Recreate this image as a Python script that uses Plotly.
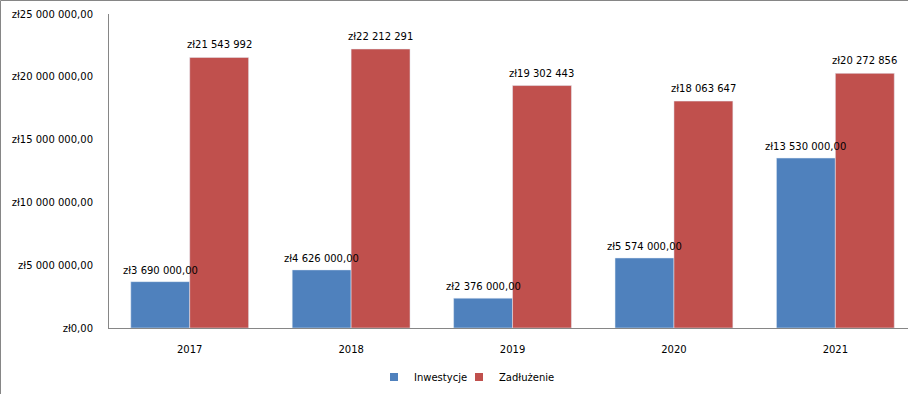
import plotly.graph_objects as go

years = ["2017", "2018", "2019", "2020", "2021"]
inwestycje = [3690000, 4626000, 2376000, 5574000, 13530000]
zadluzenie = [21543992, 22212291, 19302443, 18063647, 20272856]
inw_labels = ["zł3 690 000,00", "zł4 626 000,00", "zł2 376 000,00", "zł5 574 000,00", "zł13 530 000,00"]
zad_labels = ["zł21 543 992", "zł22 212 291", "zł19 302 443", "zł18 063 647", "zł20 272 856"]
tick_vals = [0, 5000000, 10000000, 15000000, 20000000, 25000000]
tick_text = ["zł0,00", "zł5 000 000,00", "zł10 000 000,00", "zł15 000 000,00", "zł20 000 000,00", "zł25 000 000,00"]

FONT = "DejaVu Sans"
FS = 10
W, H = 908, 394
L, R, T, B = 109, 0, 14, 66
pw = W - L - R
ph = H - T - B
BARGAP = 0.27
XRANGE = [-0.5, 4.45]
px_per_unit = pw / (XRANGE[1] - XRANGE[0])
half_bar_px = (1 - BARGAP) / 4 * px_per_unit

fig = go.Figure()
fig.add_trace(go.Bar(x=years, y=inwestycje, name="Inwestycje", marker_color="#4F81BD",
                     showlegend=False))
fig.add_trace(go.Bar(x=years, y=zadluzenie, name="Zadłużenie", marker_color="#C0504D",
                     showlegend=False))
# legend entries with small square keys
fig.add_trace(go.Scatter(x=[None], y=[None], mode="markers", name="Inwestycje",
                         marker=dict(symbol="square", size=8, color="#4F81BD")))
fig.add_trace(go.Scatter(x=[None], y=[None], mode="markers", name="Zadłużenie",
                         marker=dict(symbol="square", size=8, color="#C0504D")))
# spacer entry so the last legend label is not clipped
fig.add_trace(go.Scatter(x=[None], y=[None], mode="markers", name="\u00a0",
                         marker=dict(symbol="square", size=8, color="rgba(0,0,0,0)"),
                         hoverinfo="skip"))

annotations = []
for i, (v, t) in enumerate(zip(inwestycje, inw_labels)):
    annotations.append(dict(x=i, y=v, xref="x", yref="y", text=t, showarrow=False,
                            xshift=-half_bar_px, yshift=4, yanchor="bottom", xanchor="center",
                            font=dict(family=FONT, size=FS, color="#000000")))
for i, (v, t) in enumerate(zip(zadluzenie, zad_labels)):
    annotations.append(dict(x=i, y=v, xref="x", yref="y", text=t, showarrow=False,
                            xshift=half_bar_px, yshift=5, yanchor="bottom", xanchor="center",
                            font=dict(family=FONT, size=FS, color="#000000")))

bx = (0.5 - L) / pw
by = 1 + (T - 0.5) / ph
fig.update_layout(
    width=W, height=H,
    margin=dict(l=L, r=R, t=T, b=B, pad=0),
    paper_bgcolor="white", plot_bgcolor="white",
    barmode="group", bargap=BARGAP, bargroupgap=0,
    font=dict(family=FONT, size=FS, color="#000000"),
    showlegend=True,
    legend=dict(orientation="h", x=(374 - L) / pw, xanchor="left", y=-(377 - 328) / ph, yanchor="middle",
                font=dict(family=FONT, size=FS), itemwidth=30, entrywidth=40, traceorder="normal",
                bgcolor="rgba(0,0,0,0)"),
    annotations=annotations,
    xaxis=dict(type="category", range=XRANGE, showline=True, linecolor="#868686", linewidth=1,
               ticks="", showgrid=False, tickfont=dict(family=FONT, size=FS),
               ticklabelstandoff=12, fixedrange=True),
    yaxis=dict(range=[0, 25000000], tickvals=tick_vals, ticktext=tick_text,
               showline=True, linecolor="#868686", linewidth=1, showgrid=False,
               zeroline=False, ticks="", ticklabelstandoff=13,
               tickfont=dict(family=FONT, size=FS), fixedrange=True),
    shapes=[
        dict(type="line", xref="paper", yref="paper", x0=bx, x1=bx, y0=-B / ph, y1=by,
             line=dict(color="#868686", width=1)),
        dict(type="line", xref="paper", yref="paper", x0=bx, x1=1, y0=by, y1=by,
             line=dict(color="#868686", width=1)),
    ],
)

fig.write_html("out.html", config={"displayModeBar": False},
               post_script="document.body.style.margin='0px';document.body.style.overflow='hidden';")
